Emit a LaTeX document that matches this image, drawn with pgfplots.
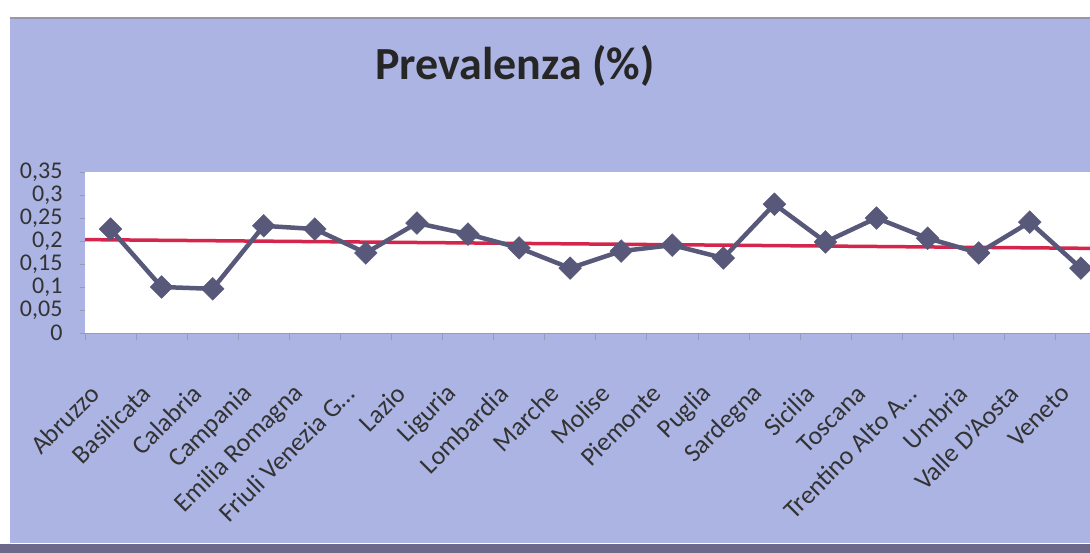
\documentclass[border=0pt]{standalone}
\usepackage{pgfplots}
\pgfplotsset{compat=1.18}
\usepackage{fontspec}
\setmainfont{Carlito}

\definecolor{panel}{RGB}{172,180,228}
\definecolor{serie}{RGB}{88,88,122}
\definecolor{media}{RGB}{212,38,76}
\definecolor{bordo}{RGB}{108,104,138}
\definecolor{tacche}{RGB}{150,155,185}

% Prevalenza per regione (categorie 0..19)
\pgfplotstableread{
x  y
0  0.226
1  0.100
2  0.096
3  0.233
4  0.226
5  0.174
6  0.239
7  0.215
8  0.185
9  0.141
10 0.178
11 0.191
12 0.163
13 0.280
14 0.198
15 0.250
16 0.206
17 0.174
18 0.241
19 0.141
}\prevalenza

\begin{document}
\begin{tikzpicture}[x=1bp,y=1bp]
  % sfondo del grafico
  \fill[white] (0,0) rectangle (1090,553);
  \fill[panel] (10,10) rectangle (1090,535);
  \fill[bordo] (0,0) rectangle (1090,9);
  \draw[line width=1.5bp, bordo!70] (10,535) -- (1090,535);

  \node[font=\fontsize{46bp}{52bp}\selectfont\bfseries, text=black!85] at (515,487) {Prevalenza (\%)};

  \begin{axis}[
    at={(85bp,220bp)}, anchor=south west,
    scale only axis,
    width=1005bp, height=161bp,
    xmin=-0.5, xmax=19.18,
    ymin=0, ymax=0.35,
    axis background/.style={fill=white},
    axis x line*=bottom,
    axis y line*=left,
    x axis line style={draw=tacche, line width=0.6bp, -},
    y axis line style={draw=none},
    xtick={0,...,19},
    xticklabels={Abruzzo,Basilicata,Calabria,Campania,Emilia Romagna,{Friuli Venezia G\ldots},Lazio,Liguria,Lombardia,Marche,Molise,Piemonte,Puglia,Sardegna,Sicilia,Toscana,{Trentino Alto A\ldots},Umbria,Valle D'Aosta,Veneto},
    major x tick style={draw=none},
    minor xtick={-0.5,0.5,...,18.5},
    minor x tick style={draw=tacche, line width=0.6bp},
    minor tick length=7bp,
    tick align=outside,
    ytick={0,0.05,...,0.35},
    yticklabels={0,{0,05},{0,1},{0,15},{0,2},{0,25},{0,3},{0,35}},
    major y tick style={draw=tacche, line width=0.5bp},
    major tick length=5bp,
    xticklabel style={font=\fontsize{26bp}{26bp}\selectfont, text=black!80, xshift=-13bp, yshift=-49bp, rotate=45, anchor=east},
    yticklabel style={font=\fontsize{24bp}{24bp}\selectfont, text=black!80, anchor=east, xshift=-14bp},
    clip=false,
  ]
    % linea di riferimento
    \addplot[media, line width=3.5bp] coordinates {(-0.5,0.203) (19.18,0.184)};
    % serie della prevalenza
    \addplot[serie, line width=4.5bp, mark=square*,
      mark options={rotate=45, fill=serie, draw=serie, line width=0.5bp},
      mark size=8bp] table[x=x,y=y] {\prevalenza};
  \end{axis}

  \pgfresetboundingbox
  \path[use as bounding box] (0,0) rectangle (1090,553);
\end{tikzpicture}
\end{document}
